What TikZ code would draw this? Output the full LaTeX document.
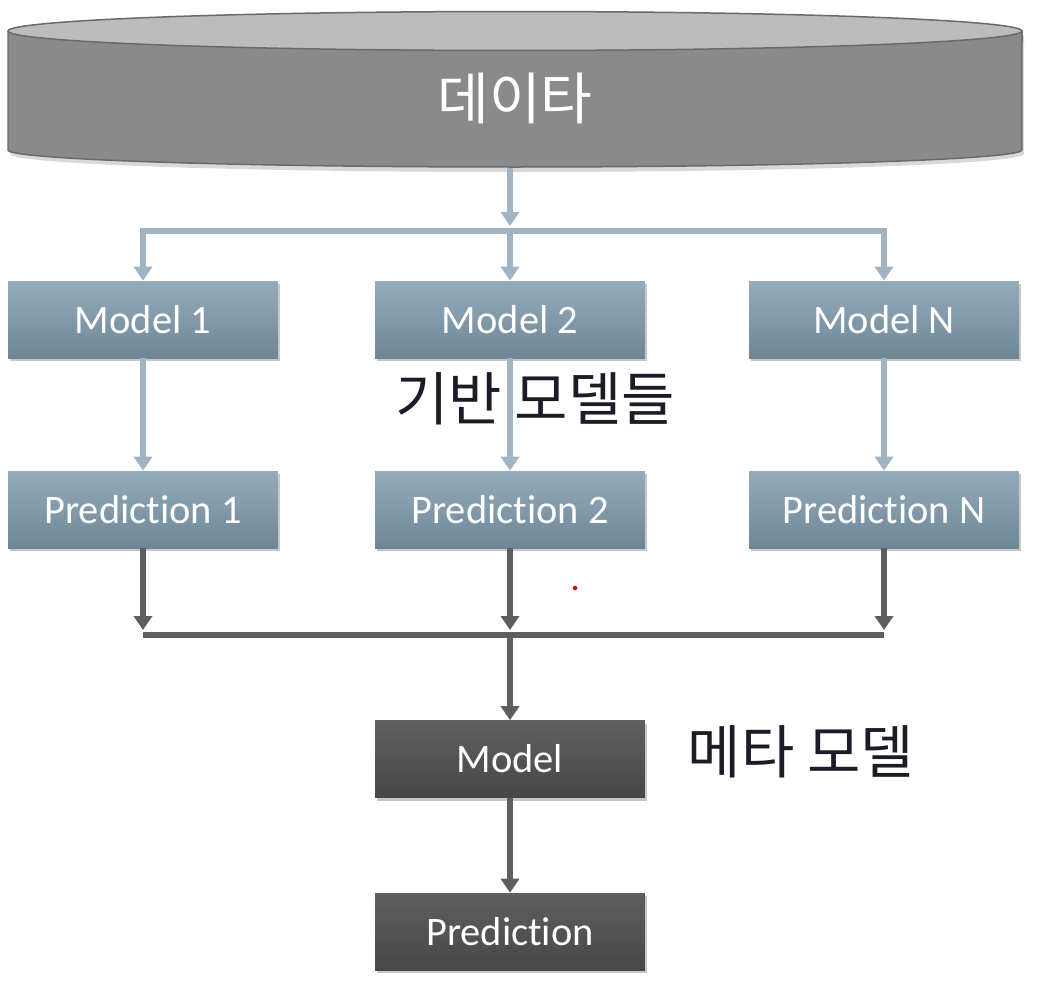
\documentclass[tikz,border=0pt]{standalone}
\usepackage{fontspec}
\setmainfont{Carlito}[RawFeature={-liga;-clig;-calt;-dlig}]
\newfontfamily\kr{Noto Sans CJK KR}
\usetikzlibrary{arrows.meta,shadows}
\definecolor{cylbody}{HTML}{8A8A8A}
\definecolor{cyltop}{HTML}{BCBCBC}
\definecolor{cylline}{HTML}{6A6A6A}
\definecolor{bluetop}{HTML}{94ABBC}
\definecolor{bluebot}{HTML}{6E8797}
\definecolor{blueline}{HTML}{A0B4C3}
\definecolor{darktop}{HTML}{5F5F5F}
\definecolor{darkbot}{HTML}{474747}
\definecolor{darkline}{HTML}{5E5E5E}
\definecolor{labelcol}{HTML}{1C1C28}
\newcommand\predword{Predict\kern0pt ion}
\begin{document}
\begin{tikzpicture}[x=0.02cm,y=-0.02cm,
  basebox/.style={minimum width=5.4cm,minimum height=1.54cm,inner sep=0pt,text=white,
    font=\fontsize{23}{27}\selectfont,
    drop shadow={shadow xshift=0.04cm,shadow yshift=-0.06cm,opacity=0.22,fill=black}},
  bluebox/.style={basebox,top color=bluetop,bottom color=bluebot},
  darkbox/.style={basebox,top color=darktop,bottom color=darkbot},
  tipstyle/.style={-{Triangle[length=0.28cm,width=0.36cm]}},
  bluearrow/.style={draw=blueline,line width=0.11cm,tipstyle},
  darkarrow/.style={draw=darkline,line width=0.11cm,tipstyle},
  krlabel/.style={font=\kr\fontsize{33}{38}\selectfont,text=labelcol,inner sep=0pt}]
\useasboundingbox (0,0) rectangle (1050,994);
% cylinder
\fill[black,opacity=0.15] (10,36) -- (10,154) arc[start angle=180,end angle=360,x radius=10.14cm,y radius=0.36cm] -- (1024,36) -- cycle;
\filldraw[fill=cylbody,draw=cylline,line width=0.03cm] (8,31) -- (8,150) arc[start angle=180,end angle=360,x radius=10.14cm,y radius=0.34cm] -- (1022,31) -- cycle;
\filldraw[fill=cyltop,draw=cylline,line width=0.03cm] (515,31) ellipse[x radius=10.14cm,y radius=0.39cm];
\node[text=white,inner sep=0pt,font=\kr\fontsize{32}{36}\selectfont] (data) at (515,98) {데이타};
\coordinate (dbot) at (510,168);
\coordinate (splittip) at (510,226);
\coordinate (split) at (510,231);
% base models
\node[bluebox] (m1) at (143,319.5) {Model 1};
\node[bluebox] (m2) at (510,319.5) {Model 2};
\node[bluebox] (mN) at (884,319.5) {Model N};
\node[bluebox] (p1) at (143,509.5) {\predword{} 1};
\node[bluebox] (p2) at (510,509.5) {\predword{} 2};
\node[bluebox] (pN) at (884,509.5) {\predword{} N};
% meta
\node[darkbox] (meta) at (510,759) {Model};
\node[darkbox] (final) at (510,931.5) {\predword};
% labels
\node[krlabel] (baselbl) at (535,399) {기반 모델들};
\node[krlabel] (metalbl) at (801,752) {메타 모델};
% blue connectors
\draw[bluearrow] (dbot) -- (splittip);
\draw[draw=blueline,line width=0.11cm,{Triangle[length=0.28cm,width=0.36cm]}-{Triangle[length=0.28cm,width=0.36cm]}]
  (m1.north) -- (m1.north |- split) -- (mN.north |- split) -- (mN.north);
\draw[bluearrow] (split) -- (m2.north);
\draw[bluearrow] (m1.south) -- (p1.north);
\draw[bluearrow] (m2.south) -- (p2.north);
\draw[bluearrow] (mN.south) -- (pN.north);
% dark connectors
\coordinate (jtip) at (510,630);
\coordinate (join) at (510,635);
\draw[draw=darkline,line width=0.11cm] (p1.south |- join) -- (pN.south |- join);
\draw[darkarrow] (p1.south) -- (p1.south |- jtip);
\draw[darkarrow] (p2.south) -- (p2.south |- jtip);
\draw[darkarrow] (pN.south) -- (pN.south |- jtip);
\draw[darkarrow] (join) -- (meta.north);
\draw[darkarrow] (meta.south) -- (final.north);
% red dot
\fill[red!85!black] (575,588) circle[radius=0.045cm];
\end{tikzpicture}
\end{document}
